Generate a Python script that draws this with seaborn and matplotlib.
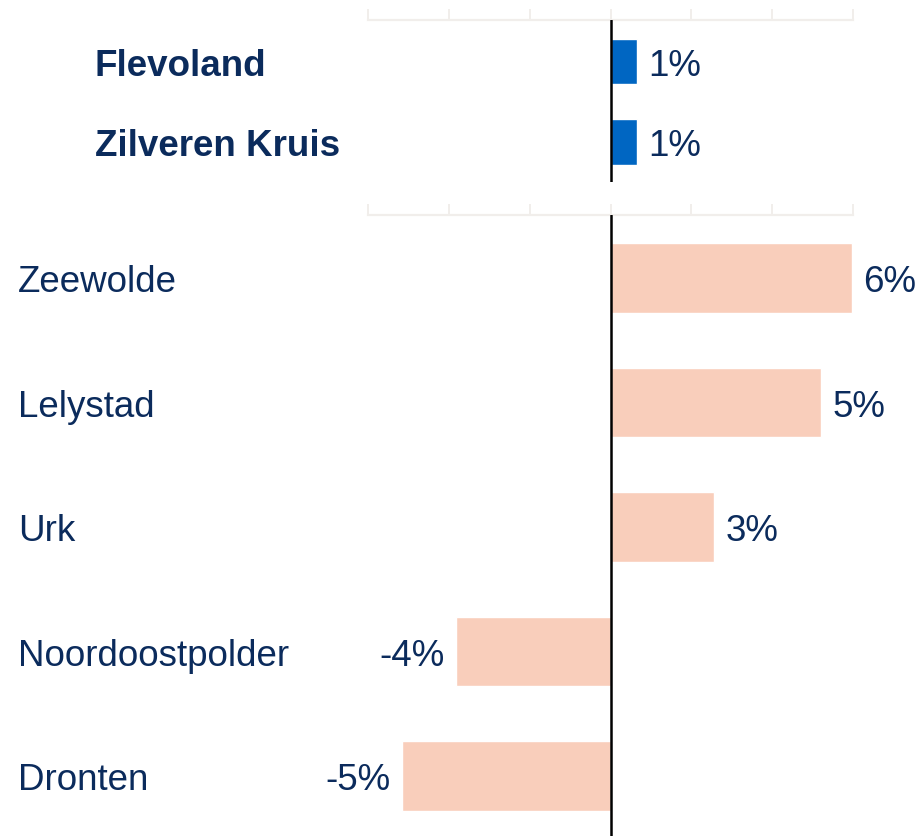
import matplotlib
matplotlib.use("Agg")
import matplotlib.pyplot as plt
import pandas as pd
import seaborn as sns

# data
top_names = ["Flevoland", "Zilveren Kruis"]
top_values = [0.65, 0.65]

bottom_names = ["Zeewolde", "Lelystad", "Urk", "Noordoostpolder", "Dronten"]
bottom_values = [5.97, 5.2, 2.55, -3.82, -5.15]

x_ticks = [-6, -4, -2, 0, 2, 4, 6]

TEXT_COLOR = "#0b2b5c"
BLUE = "#0066c2"
PEACH = "#f9cebb"
AXIS_GRAY = "#f1eeeb"

sns.set_theme(style="white")
plt.rcParams["font.family"] = ["Liberation Sans", "DejaVu Sans"]

fig = plt.figure(figsize=(9.2, 8.36), dpi=100)
W, H = 920, 836


def add_axes_px(left, top, right, bottom):
    return fig.add_axes([left / W, 1 - bottom / H, (right - left) / W, (bottom - top) / H])


ax_top = add_axes_px(368, 20, 853, 182)
ax_bot = add_axes_px(368, 215, 853, 836)

# text sits a few px lower than the plain centre
DY = -3.4


def draw_panel(ax, names, values, color, ylim, bold):
    df = pd.DataFrame({"name": names, "value": values})
    sns.barplot(data=df, x="value", y="name", orient="h", color=color,
                saturation=1, width=0.56, ax=ax)
    ax.set_xlim(-6, 6)
    ax.set_ylim(*ylim)
    ax.axvline(0, color="black", lw=1.8, zorder=5)

    # light axis on top with outward ticks
    for side in ["left", "right", "bottom"]:
        ax.spines[side].set_visible(False)
    ax.spines["top"].set_color(AXIS_GRAY)
    ax.spines["top"].set_linewidth(1.6)
    ax.xaxis.tick_top()
    ax.set_xticks(x_ticks)
    ax.tick_params(axis="x", direction="out", length=8, width=1.4,
                   color=AXIS_GRAY, labeltop=False, labelbottom=False)
    ax.set_yticks([])
    ax.set_xlabel("")
    ax.set_ylabel("")
    ax.patch.set_alpha(0)

    # category labels at fixed figure x, data y
    label_x = (95 if bold else 18) / W
    for i, name in enumerate(names):
        ax.annotate(name, (label_x, i), xycoords=(fig.transFigure, ax.transData),
                    xytext=(0, DY), textcoords="offset points",
                    ha="left", va="center", fontsize=26.5, color=TEXT_COLOR,
                    fontweight="bold" if bold else "normal", annotation_clip=False)

    # value labels
    for i, v in enumerate(values):
        txt = f"{round(v):.0f}%"
        if v >= 0:
            ax.annotate(txt, (v, i), xytext=(8.5, DY), textcoords="offset points",
                        ha="left", va="center", fontsize=26.5, color=TEXT_COLOR,
                        annotation_clip=False)
        else:
            ax.annotate(txt, (v, i), xytext=(-8.5, DY), textcoords="offset points",
                        ha="right", va="center", fontsize=26.5, color=TEXT_COLOR,
                        annotation_clip=False)


draw_panel(ax_top, top_names, top_values, BLUE, (1.494, -0.512), bold=True)
draw_panel(ax_bot, bottom_names, bottom_values, PEACH, (4.482, -0.506), bold=False)

fig.savefig("out.png", dpi=100, facecolor="white")
